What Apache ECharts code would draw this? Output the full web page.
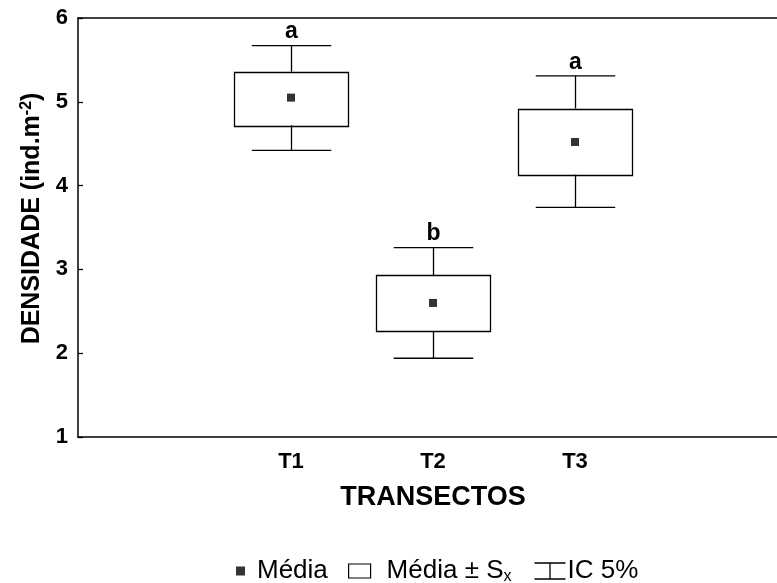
<!DOCTYPE html>
<html>
<head>
<meta charset="utf-8">
<script src="https://cdn.jsdelivr.net/npm/echarts@6/dist/echarts.min.js"></script>
<style>
  html, body { margin: 0; padding: 0; background: #fff; }
  #chart { width: 777px; height: 583px; }
</style>
</head>
<body>
<div id="chart"></div>
<script>
// data
var groups = ['T1', 'T2', 'T3'];
var axisCats = ['', 'T1', 'T2', 'T3', ''];
var means = [5.05, 2.60, 4.52];
var seLow = [4.72, 2.26, 4.13];
var seHigh = [5.36, 2.93, 4.92];
var ciLow = [4.42, 1.94, 3.74];
var ciHigh = [5.67, 3.26, 5.31];
var letters = ['a', 'b', 'a'];
var yTicks = [1, 2, 3, 4, 5, 6];

var FONT = '"Liberation Sans", Arial, sans-serif';

var myChart = echarts.init(document.getElementById('chart'));

var boxData = groups.map(function (g, i) { return [g, seLow[i], seHigh[i]]; });
var ciData = groups.map(function (g, i) { return [g, ciLow[i], seLow[i], seHigh[i], ciHigh[i]]; });
var meanData = groups.map(function (g, i) { return [g, means[i]]; });

var option = {
    animation: false,
    backgroundColor: '#fff',
    grid: { left: 78, width: 710, top: 18, bottom: 146, outerBoundsMode: 'none' },
    xAxis: [{
        type: 'category',
        data: axisCats,
        boundaryGap: true,
        axisLine: { lineStyle: { color: '#000', width: 1.5 } },
        axisTick: { inside: true, alignWithLabel: true, interval: 0, length: 5, lineStyle: { color: '#000', width: 1.3 } },
        axisLabel: { interval: 0, margin: 14, color: '#000', fontSize: 22, fontWeight: 'bold', fontFamily: FONT },
        name: 'TRANSECTOS',
        nameLocation: 'middle',
        nameGap: 47,
        nameTextStyle: { color: '#000', fontSize: 27, fontWeight: 'bold', fontFamily: FONT }
    }, {
        type: 'category',
        data: axisCats,
        position: 'top',
        boundaryGap: true,
        axisLine: { lineStyle: { color: '#000', width: 1.5 } },
        axisTick: { inside: true, alignWithLabel: true, interval: 0, length: 5, lineStyle: { color: '#000', width: 1.3 } },
        axisLabel: { show: false }
    }],
    yAxis: {
        type: 'value',
        min: yTicks[0],
        max: yTicks[yTicks.length - 1],
        interval: 1,
        splitLine: { show: false },
        axisLine: { show: true, lineStyle: { color: '#000', width: 1.5 } },
        axisTick: { show: true, inside: true, length: 5, lineStyle: { color: '#000', width: 1.3 } },
        axisLabel: { margin: 10, color: '#000', fontSize: 22, fontWeight: 'bold', fontFamily: FONT },
        name: '{t|DENSIDADE (ind.m}{s|-2}{t|)}',
        nameLocation: 'middle',
        nameRotate: 90,
        nameGap: 32,
        nameTextStyle: {
            padding: [0, 0, 0, 18],
            rich: {
                t: { color: '#000', fontSize: 25, fontWeight: 'bold', fontFamily: FONT, lineHeight: 27 },
                s: { color: '#000', fontSize: 16, fontWeight: 'bold', fontFamily: FONT, verticalAlign: 'top', lineHeight: 16 }
            }
        }
    },
    legend: [{
        data: [{ name: 'Média', icon: 'rect', itemStyle: { color: '#000', borderWidth: 0 } }],
        left: 236, top: 558, padding: 0,
        itemWidth: 9, itemHeight: 9,
        selectedMode: false,
        textStyle: { color: '#000', fontSize: 26, fontFamily: FONT, padding: [0, 0, 0, 7] }
    }, {
        data: [{ name: 'Média ± Sx', icon: 'rect', itemStyle: { color: '#fff', borderColor: '#000', borderWidth: 1.2 } }],
        left: 348, top: 558, padding: 0,
        itemWidth: 22, itemHeight: 14,
        selectedMode: false,
        formatter: function () { return '{t|Média ± S}{s|x}'; },
        textStyle: {
            padding: [0, 0, 0, 11],
            rich: {
                t: { color: '#000', fontSize: 26, fontFamily: FONT, lineHeight: 28 },
                s: { color: '#000', fontSize: 16, fontFamily: FONT, verticalAlign: 'bottom', lineHeight: 16 }
            }
        }
    }, {
        data: [{ name: 'IC 5%', icon: 'path://M0,0H20M10,0V20M0,20H20', itemStyle: { color: 'none', borderColor: '#000', borderWidth: 1.3 } }],
        left: 532, top: 558, padding: 0,
        itemWidth: 31, itemHeight: 16,
        symbolKeepAspect: false,
        selectedMode: false,
        textStyle: { color: '#000', fontSize: 26, fontFamily: FONT, padding: [0, 0, 0, -3] }
    }],
    series: [{
        name: 'Média ± Sx',
        type: 'custom',
        data: boxData,
        encode: { x: 0, y: [1, 2] },
        renderItem: function (params, api) {
            var lo = api.coord([api.value(0), api.value(1)]);
            var hi = api.coord([api.value(0), api.value(2)]);
            var w = api.size([1, 0])[0] * 0.8;
            return {
                type: 'rect',
                shape: { x: Math.round(lo[0] - w / 2) + 0.5, y: Math.round(hi[1]) + 0.5, width: Math.round(w), height: Math.round(lo[1] - hi[1]) },
                style: { fill: '#fff', stroke: '#000', lineWidth: 1.3 }
            };
        }
    }, {
        name: 'IC 5%',
        type: 'custom',
        data: ciData,
        encode: { x: 0, y: [1, 4] },
        z: 3,
        renderItem: function (params, api) {
            var x = api.value(0);
            var pLow = api.coord([x, api.value(1)]);
            var bLow = api.coord([x, api.value(2)]);
            var bHigh = api.coord([x, api.value(3)]);
            var pHigh = api.coord([x, api.value(4)]);
            var cw = api.size([1, 0])[0] * 0.56 / 2;
            var cx = Math.round(pLow[0]) + 0.5;
            var st = { stroke: '#000', lineWidth: 1.3 };
            return {
                type: 'group',
                children: [
                    { type: 'line', shape: { x1: cx, y1: pHigh[1], x2: cx, y2: bHigh[1] }, style: st },
                    { type: 'line', shape: { x1: cx, y1: bLow[1], x2: cx, y2: pLow[1] }, style: st },
                    { type: 'line', shape: { x1: cx - cw, y1: pHigh[1], x2: cx + cw, y2: pHigh[1] }, style: st },
                    { type: 'line', shape: { x1: cx - cw, y1: pLow[1], x2: cx + cw, y2: pLow[1] }, style: st },
                    {
                        type: 'text', x: cx, y: pHigh[1] - 2,
                        style: {
                            text: letters[params.dataIndex], fill: '#000',
                            fontSize: 23, fontWeight: 'bold', fontFamily: FONT,
                            align: 'center', verticalAlign: 'bottom'
                        }
                    }
                ]
            };
        }
    }, {
        name: 'Média',
        type: 'scatter',
        data: meanData,
        symbol: 'rect',
        symbolSize: 8,
        z: 4,
        itemStyle: { color: '#000' }
    }]
};

myChart.setOption(option);

window.addEventListener('resize', function () {
    myChart.resize();
});
</script>
</body>
</html>
